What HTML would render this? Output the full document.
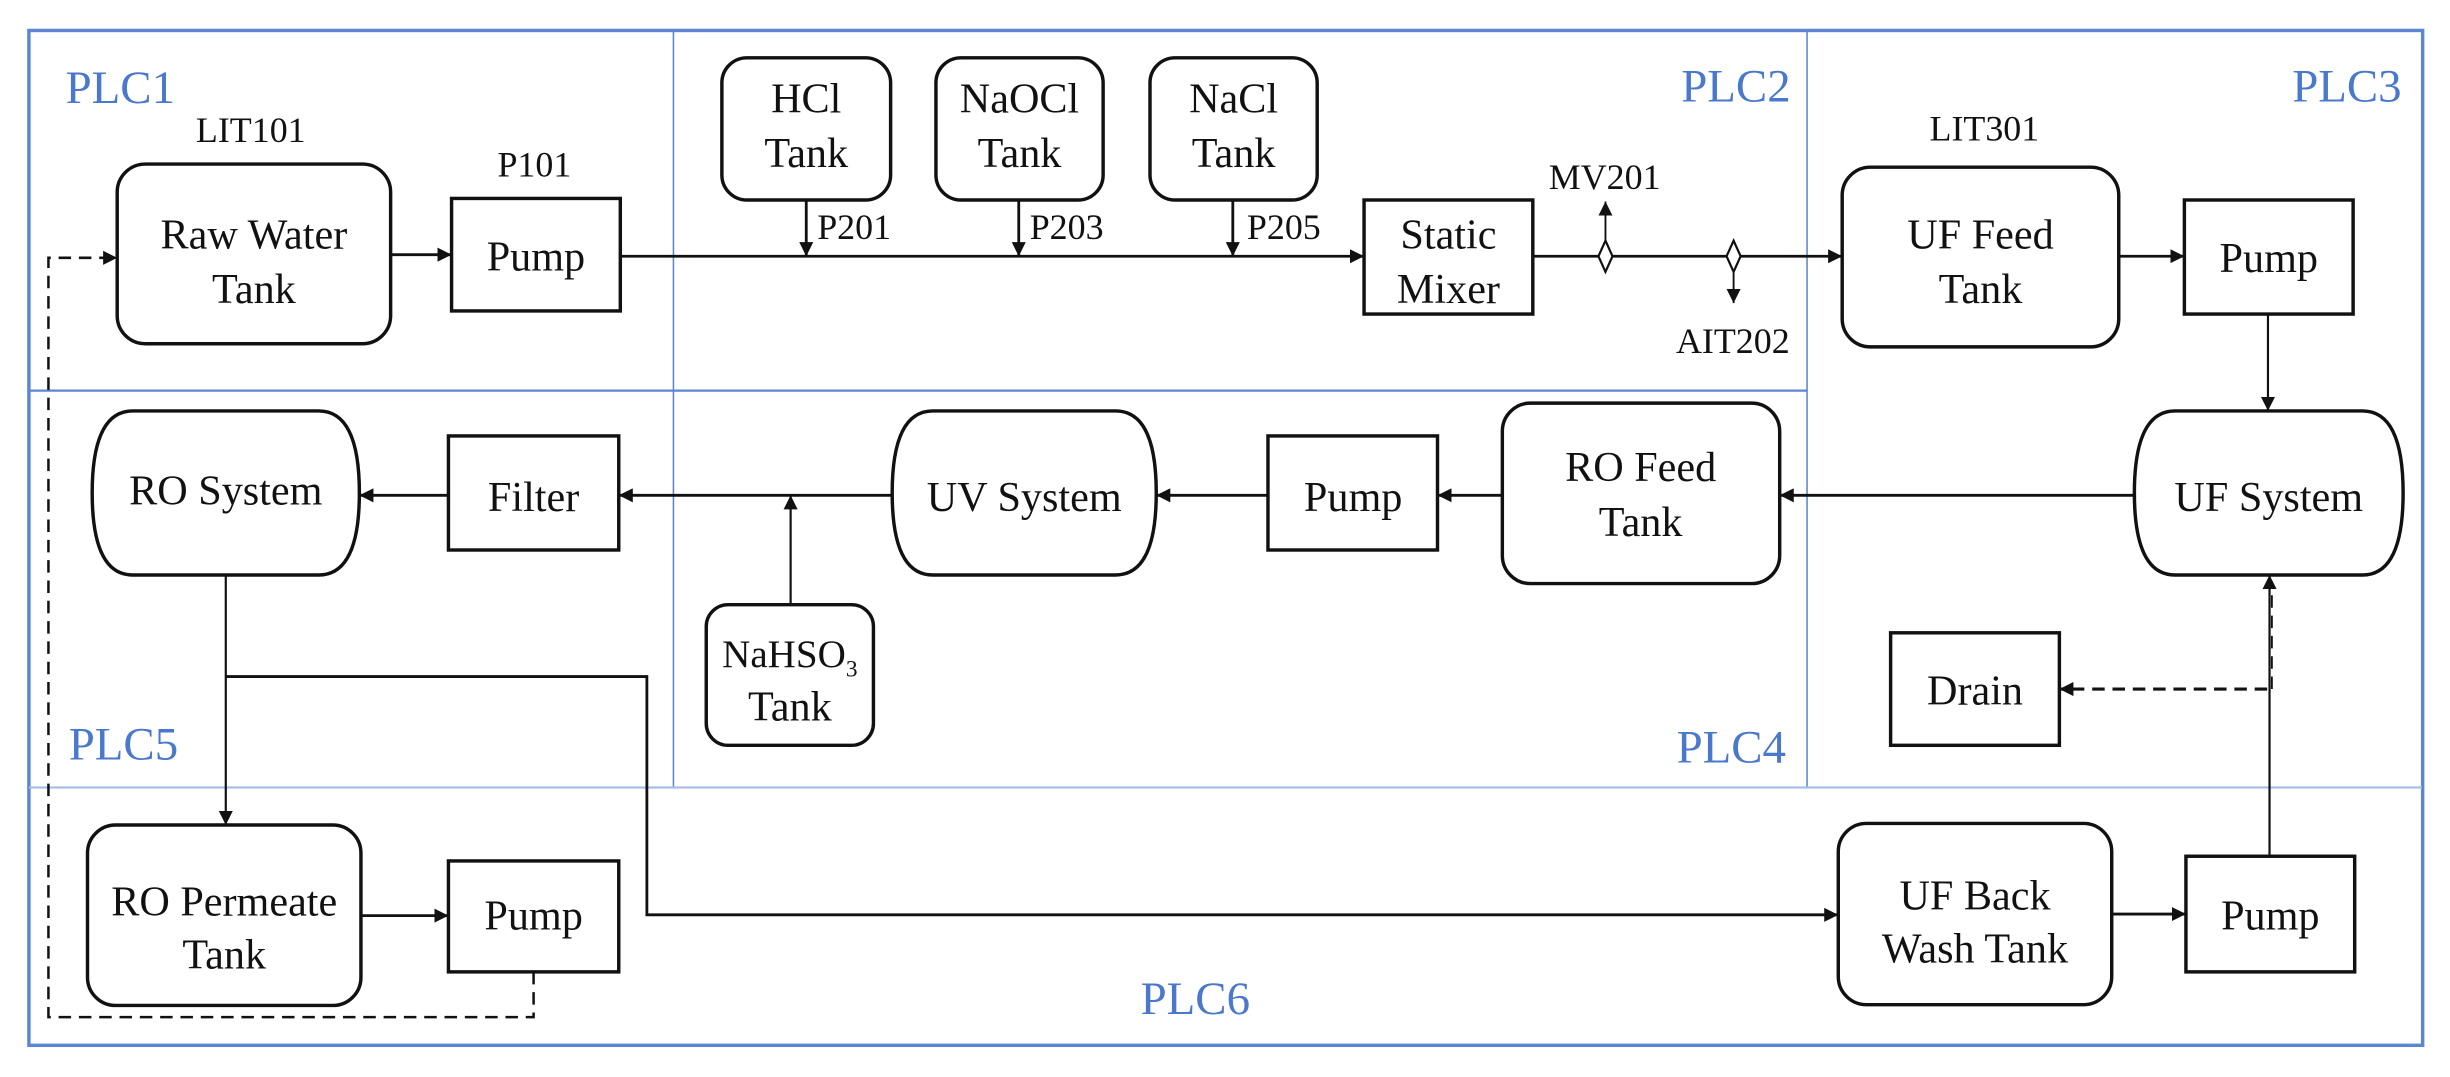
<!DOCTYPE html>
<html><head><meta charset="utf-8"><style>
html,body{margin:0;padding:0;background:#fff;}
svg{display:block;}
text{font-family:"Liberation Serif",serif;fill:#111;}
.plc{fill:#4a78cc;font-size:30px;}
.n{font-size:27px;text-anchor:middle;}
.lb{font-size:23px;}
</style></head><body>
<svg width="2450" height="1077" viewBox="0 0 1568 689.28" preserveAspectRatio="none" xmlns="http://www.w3.org/2000/svg">
<defs>
<marker id="a" viewBox="0 0 10 10" refX="10" refY="5" markerWidth="9" markerHeight="9" markerUnits="userSpaceOnUse" orient="auto">
<path d="M0,0 L10,5 L0,10 z" fill="#111"/></marker>
</defs>
<rect width="1568" height="690" fill="#fff"/>
<!-- PLC region lines -->
<g stroke="#5b86d0" fill="none">
<rect x="18.5" y="19.5" width="1532" height="649.5" stroke-width="2.2"/>
<line x1="431" y1="19.5" x2="431" y2="504" stroke-width="1"/>
<line x1="1156.5" y1="19.5" x2="1156.5" y2="504" stroke-width="1"/>
<line x1="18.5" y1="250" x2="1156.5" y2="250" stroke-width="1.5"/>
<line x1="18.5" y1="504" x2="1550" y2="504" stroke-width="1.5" stroke="#a9bde6"/>
</g>
<text class="plc" x="42" y="66">PLC1</text>
<text class="plc" x="1146" y="65" text-anchor="end">PLC2</text>
<text class="plc" x="1537" y="65" text-anchor="end">PLC3</text>
<text class="plc" x="44" y="486">PLC5</text>
<text class="plc" x="1143" y="488" text-anchor="end">PLC4</text>
<text class="plc" x="730" y="649">PLC6</text>

<!-- nodes -->
<g stroke="#111" stroke-width="2.2" fill="#fff">
<rect x="75" y="105" width="175" height="115" rx="18"/>
<rect x="289" y="127" width="108" height="72"/>
<rect x="462" y="37" width="108" height="91" rx="16"/>
<rect x="599" y="37" width="107" height="91" rx="16"/>
<rect x="736" y="37" width="107" height="91" rx="16"/>
<rect x="873" y="128" width="108" height="73"/>
<rect x="1179" y="107" width="177" height="115" rx="18"/>
<rect x="1398" y="128" width="108" height="73"/>
<path d="M1392,263 L1512,263 Q1538,263 1538,315.5 Q1538,368 1512,368 L1392,368 Q1366,368 1366,315.5 Q1366,263 1392,263 z"/>
<rect x="961.5" y="258" width="177.5" height="115.5" rx="18"/>
<rect x="811.5" y="279" width="108.5" height="73"/>
<path d="M597,263 L714,263 Q740,263 740,315.5 Q740,368 714,368 L597,368 Q571,368 571,315.5 Q571,263 597,263 z"/>
<rect x="287" y="279" width="109" height="73"/>
<path d="M85,263 L204,263 Q230,263 230,315.5 Q230,368 204,368 L85,368 Q59,368 59,315.5 Q59,263 85,263 z"/>
<rect x="452" y="387" width="107" height="90" rx="14"/>
<rect x="1210" y="405" width="108" height="72"/>
<rect x="56" y="528" width="175" height="115.5" rx="18"/>
<rect x="287" y="551" width="109" height="71"/>
<rect x="1176.5" y="527" width="175" height="116" rx="18"/>
<rect x="1399" y="548" width="108" height="74"/>
</g>

<!-- connectors -->
<g stroke="#111" stroke-width="1.8" fill="none">
<line x1="250" y1="163" x2="289" y2="163" marker-end="url(#a)"/>
<line x1="397" y1="164" x2="873" y2="164" marker-end="url(#a)"/>
<line x1="516" y1="128" x2="516" y2="164" marker-end="url(#a)"/>
<line x1="652" y1="128" x2="652" y2="164" marker-end="url(#a)"/>
<line x1="789" y1="128" x2="789" y2="164" marker-end="url(#a)"/>
<line x1="981" y1="164" x2="1179" y2="164" marker-end="url(#a)"/>
<line x1="1027.5" y1="154" x2="1027.5" y2="129" stroke-width="1.2" marker-end="url(#a)"/>
<line x1="1109.5" y1="174" x2="1109.5" y2="194" stroke-width="1.2" marker-end="url(#a)"/>
<line x1="1356" y1="164" x2="1398" y2="164" marker-end="url(#a)"/>
<line x1="1451.5" y1="201" x2="1451.5" y2="263" stroke-width="1.4" marker-end="url(#a)"/>
<line x1="1366" y1="317" x2="1139" y2="317" marker-end="url(#a)"/>
<line x1="961.5" y1="317" x2="920" y2="317" marker-end="url(#a)"/>
<line x1="811.5" y1="317" x2="740" y2="317" marker-end="url(#a)"/>
<line x1="571" y1="317" x2="396" y2="317" marker-end="url(#a)"/>
<line x1="287" y1="317" x2="230" y2="317" marker-end="url(#a)"/>
<line x1="506" y1="387" x2="506" y2="317" stroke-width="1.4" marker-end="url(#a)"/>
<line x1="144.5" y1="368" x2="144.5" y2="528" stroke-width="1.4" marker-end="url(#a)"/>
<polyline points="144.5,433 414,433 414,585.5 1176.5,585.5" marker-end="url(#a)"/>
<line x1="231" y1="586" x2="287" y2="586" marker-end="url(#a)"/>
<line x1="1351.5" y1="585" x2="1399" y2="585" marker-end="url(#a)"/>
<line x1="1452.5" y1="548" x2="1452.5" y2="368" stroke-width="1.4" marker-end="url(#a)"/>
<g stroke-dasharray="8 5" stroke-width="2">
<line x1="1451" y1="441" x2="1318" y2="441" marker-end="url(#a)"/>
<line x1="1454" y1="441" x2="1454" y2="372" stroke-width="1.2"/>
<polyline points="341.5,622 341.5,651 31,651 31,165 75,165" stroke-width="1.6" marker-end="url(#a)"/>
</g>
</g>
<g stroke="#111" stroke-width="1.4" fill="#fff">
<path d="M1027.5,154 L1032,164 L1027.5,174 L1023,164 z"/>
<path d="M1109.5,154 L1114,164 L1109.5,174 L1105,164 z"/>
</g>

<!-- node labels -->
<text class="n" x="162.5" y="159">Raw Water</text>
<text class="n" x="162.5" y="194">Tank</text>
<text class="n" x="343" y="173">Pump</text>
<text class="n" x="516" y="72">HCl</text>
<text class="n" x="516" y="107">Tank</text>
<text class="n" x="652.5" y="72">NaOCl</text>
<text class="n" x="652.5" y="107">Tank</text>
<text class="n" x="789.5" y="72">NaCl</text>
<text class="n" x="789.5" y="107">Tank</text>
<text class="n" x="927" y="159">Static</text>
<text class="n" x="927" y="194">Mixer</text>
<text class="n" x="1267.5" y="159">UF Feed</text>
<text class="n" x="1267.5" y="194">Tank</text>
<text class="n" x="1452" y="174">Pump</text>
<text class="n" x="1452" y="327">UF System</text>
<text class="n" x="1050" y="308">RO Feed</text>
<text class="n" x="1050" y="343">Tank</text>
<text class="n" x="866" y="327">Pump</text>
<text class="n" x="655.5" y="327">UV System</text>
<text class="n" x="341.5" y="327">Filter</text>
<text class="n" x="144.5" y="323">RO System</text>
<text class="n" x="505.5" y="427" style="font-size:25px">NaHSO<tspan font-size="15" dy="6">3</tspan></text>
<text class="n" x="505.5" y="461">Tank</text>
<text class="n" x="1264" y="451">Drain</text>
<text class="n" x="143.5" y="586">RO Permeate</text>
<text class="n" x="143.5" y="620">Tank</text>
<text class="n" x="341.5" y="595">Pump</text>
<text class="n" x="1264" y="582">UF Back</text>
<text class="n" x="1264" y="616">Wash Tank</text>
<text class="n" x="1453" y="595">Pump</text>

<!-- instrument labels -->
<text class="lb" x="160.5" y="91" text-anchor="middle">LIT101</text>
<text class="lb" x="342" y="113" text-anchor="middle">P101</text>
<text class="lb" x="523" y="153">P201</text>
<text class="lb" x="659" y="153">P203</text>
<text class="lb" x="798" y="153">P205</text>
<text class="lb" x="1027" y="121" text-anchor="middle">MV201</text>
<text class="lb" x="1109" y="226" text-anchor="middle">AIT202</text>
<text class="lb" x="1270" y="90" text-anchor="middle">LIT301</text>
</svg>
</body></html>
